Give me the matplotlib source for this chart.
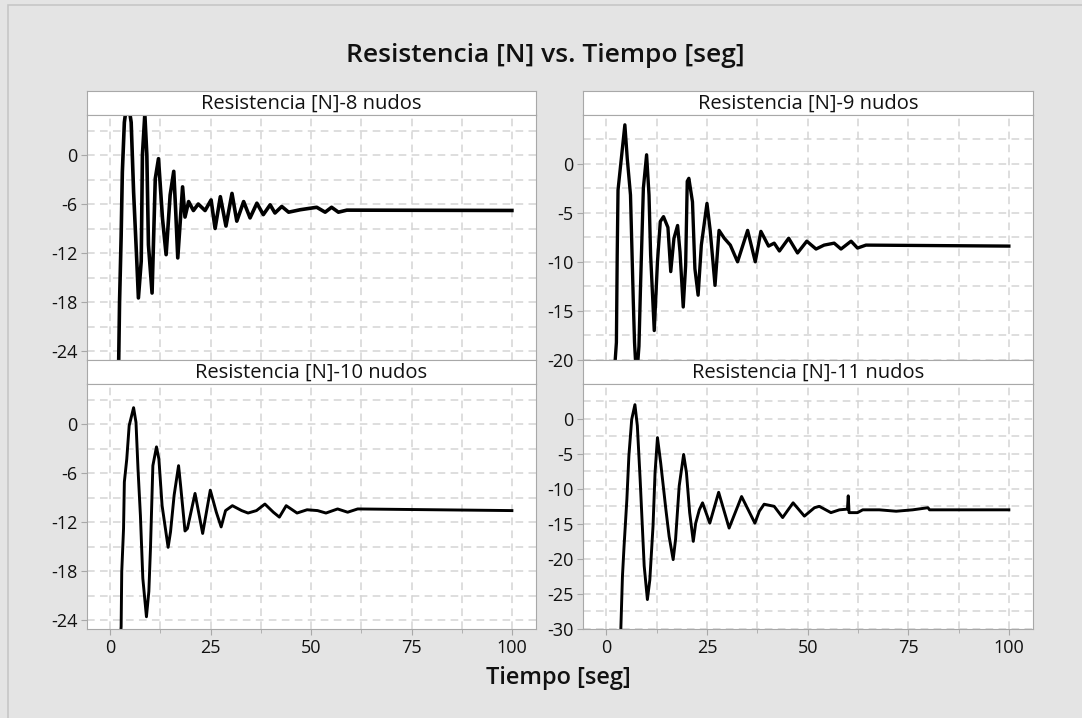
import matplotlib.pyplot as plt
from matplotlib.ticker import MultipleLocator
from matplotlib.patches import Rectangle

# tiempo [seg] y resistencia [N], un par de listas por panel
t8 = [0, 2.1, 2.3, 2.7, 3.0, 3.5, 4.3, 5.2, 5.8, 6.6, 7.0, 7.7, 8.0, 8.6, 9.1, 9.5,
      10.4, 11.2, 12.0, 13.0, 13.9, 14.9, 15.8, 16.3, 16.8, 18.0, 18.6, 19.5, 20.7,
      21.9, 23.6, 25.1, 26.1, 27.4, 28.8, 30.3, 31.5, 33.2, 34.8, 36.5, 38.1, 39.8,
      41.0, 42.7, 44.4, 47.3, 51.4, 53.5, 55.1, 56.8, 58.9, 100]
r8 = [-45, -25.0, -18.1, -10.0, -2.1, 4.0, 7.0, 4.0, -4.5, -13.0, -17.5, -13.0, 0.0,
      5.0, 0.0, -11.0, -16.9, -2.9, -0.45, -7.8, -12.2, -4.9, -2.0, -7.0, -12.6, -3.9,
      -7.6, -5.7, -6.8, -6.0, -6.8, -5.5, -9.0, -5.1, -8.7, -4.7, -8.1, -5.7, -7.7,
      -5.9, -7.3, -6.1, -7.1, -6.3, -7.0, -6.7, -6.4, -7.0, -6.4, -7.0, -6.75, -6.79]

t9 = [0, 2.2, 2.5, 2.7, 2.9, 4.6, 5.2, 6.0, 6.7, 7.0, 7.5, 8.1, 8.5, 9.2, 10.0, 10.6,
      11.0, 11.9, 12.7, 13.4, 14.2, 15.3, 16.0, 16.8, 17.7, 18.3, 19.1, 19.7, 20.1,
      20.5, 21.4, 22.0, 22.8, 23.6, 25.0, 25.8, 27.0, 28.0, 29.3, 30.8, 32.6, 35.1,
      37.0, 38.4, 40.3, 41.7, 43.0, 45.3, 47.5, 49.8, 52.1, 54.1, 56.6, 58.3, 60.8,
      62.4, 64.5, 100]
r9 = [-40, -20, -18.2, -9.3, -2.7, 3.95, 0.5, -3.2, -14.1, -18.2, -22.0, -18.6, -12.4,
      -2.5, 0.9, -3.2, -9.3, -17.0, -10.0, -5.9, -5.4, -6.5, -11.0, -7.6, -6.3, -9.0,
      -14.6, -10.4, -1.8, -1.5, -3.9, -10.7, -13.4, -8.3, -4.05, -6.8, -12.4, -6.8,
      -7.6, -8.3, -10.0, -6.8, -10.0, -6.9, -8.4, -8.1, -8.9, -7.6, -9.1, -7.9, -8.7,
      -8.3, -8.1, -8.7, -7.9, -8.6, -8.3, -8.4]

t10 = [0, 2.7, 2.85, 3.3, 3.5, 4.1, 4.7, 5.8, 6.4, 6.9, 7.5, 8.1, 9.0, 9.6, 10.0, 10.6,
       11.5, 12.1, 12.9, 14.4, 15.0, 15.9, 17.0, 17.5, 18.6, 19.2, 21.1, 23.0, 24.9,
       26.4, 27.6, 28.7, 30.4, 32.7, 34.3, 36.4, 38.5, 40.6, 42.1, 43.8, 46.5, 49.0,
       51.6, 53.7, 56.6, 59.1, 61.6, 100]
r10 = [-45, -24.8, -18.1, -12.8, -7.1, -4.3, -0.2, 2.0, 0.2, -5.5, -11.2, -18.9,
       -23.6, -20.5, -15.3, -5.1, -2.8, -4.3, -10.0, -15.1, -13.2, -8.7, -5.1, -7.5,
       -13.1, -12.8, -8.5, -13.4, -8.1, -10.8, -12.6, -10.6, -10.0, -10.6, -10.9,
       -10.6, -9.8, -10.8, -11.4, -10.0, -10.9, -10.5, -10.6, -10.9, -10.4, -10.8,
       -10.4, -10.6]

t11 = [0, 3.6, 4.0, 4.4, 5.1, 5.6, 6.3, 7.1, 7.7, 8.4, 9.4, 10.2, 10.8, 11.6, 12.1,
       12.7, 13.5, 14.8, 15.6, 16.6, 17.2, 18.1, 19.2, 19.9, 20.7, 21.6, 22.2, 23.1,
       23.9, 25.7, 27.9, 30.5, 33.6, 36.9, 38.0, 39.2, 41.7, 43.8, 46.4, 49.2, 51.7,
       52.9, 55.8, 57.9, 59.9, 60.1, 60.3, 62.4, 63.7, 67.8, 72.0, 76.1, 79.9, 80.3, 100]
r11 = [-50, -30, -22.5, -18.2, -11.5, -5.3, -0.1, 2.0, -1.0, -8.7, -21.0, -25.8,
       -23.0, -15.3, -7.7, -2.7, -6.3, -13.0, -16.8, -20.1, -17.2, -9.6, -5.1, -7.7,
       -13.4, -17.5, -14.9, -13.0, -12.0, -14.9, -10.5, -15.6, -11.1, -14.9, -13.2,
       -12.2, -12.5, -14.1, -12.0, -13.9, -12.7, -12.5, -13.4, -13.0, -12.9, -11.0,
       -13.4, -13.4, -13.0, -13.0, -13.2, -13.0, -12.7, -13.0, -13.0]

titulos = ['Resistencia [N]-8 nudos', 'Resistencia [N]-9 nudos',
           'Resistencia [N]-10 nudos', 'Resistencia [N]-11 nudos']
series = [(t8, r8), (t9, r9), (t10, r10), (t11, r11)]

W, H = 1082, 718
plt.rcParams['font.family'] = ['Open Sans', 'DejaVu Sans']
plt.rcParams['axes.unicode_minus'] = False

fig = plt.figure(figsize=(W / 100, H / 100), dpi=100, facecolor='#e4e4e4')
fig.patches.append(Rectangle((8 / W, -0.1), 1.2, 1.1 - 5 / H, transform=fig.transFigure,
                             fill=False, edgecolor='#c6c6c6', lw=1.2))

def px_box(x0, y0, x1, y1):
    return [x0 / W, 1 - y1 / H, (x1 - x0) / W, (y1 - y0) / H]

cols = [(87, 536), (583, 1033)]
rows = [(91, 115, 360), (360, 384, 629)]
ylims = [(-25.1, 4.9), (-20, 4.95), (-25.1, 4.9), (-30, 4.95)]
ysteps = [6, 5, 6, 5]
anchos = [2.6, 2.4, 2.1, 2.1]
grid_c = '#d4d4d4'
spine_c = '#a8a8a8'

for k in range(4):
    r, c = divmod(k, 2)
    x0, x1 = cols[c]
    yh, yp, yb = rows[r]

    # cabecera del panel
    hx = fig.add_axes(px_box(x0, yh, x1, yp))
    hx.set_facecolor('white')
    hx.set_xticks([])
    hx.set_yticks([])
    for s in hx.spines.values():
        s.set_color(spine_c)
    hx.text(0.5, 0.45, titulos[k], ha='center', va='center', fontsize=14.5,
            color='#111111', transform=hx.transAxes)

    ax = fig.add_axes(px_box(x0, yp, x1, yb))
    ax.set_facecolor('white')
    t, y = series[k]
    ax.plot(t, y, color='black', lw=anchos[k])
    ax.set_xlim(-5.8, 106)
    ax.set_ylim(*ylims[k])
    ax.xaxis.set_major_locator(MultipleLocator(25))
    ax.xaxis.set_minor_locator(MultipleLocator(12.5))
    ax.yaxis.set_major_locator(MultipleLocator(ysteps[k]))
    ax.yaxis.set_minor_locator(MultipleLocator(ysteps[k] / 2))
    ax.grid(True, which='both', color=grid_c, ls=(0, (5, 3.5)), lw=1.1)
    ax.set_axisbelow(True)
    for s in ax.spines.values():
        s.set_color(spine_c)
    ax.tick_params(which='major', length=4, color=spine_c, labelsize=13,
                   labelcolor='#111111', pad=3)
    ax.tick_params(which='minor', length=0)
    ax.tick_params(axis='x', which='minor', length=3, color=spine_c)
    if r == 0:
        ax.tick_params(axis='x', labelbottom=False)

fig.text(545 / W, 1 - 55 / H, 'Resistencia [N] vs. Tiempo [seg]', ha='center',
         va='center', fontsize=19, fontweight='semibold', color='#111111')
fig.text(558 / W, 1 - 678 / H, 'Tiempo [seg]', ha='center', va='center',
         fontsize=17, fontweight='semibold', color='#111111')

fig.savefig('out.png', dpi=100, facecolor=fig.get_facecolor())
